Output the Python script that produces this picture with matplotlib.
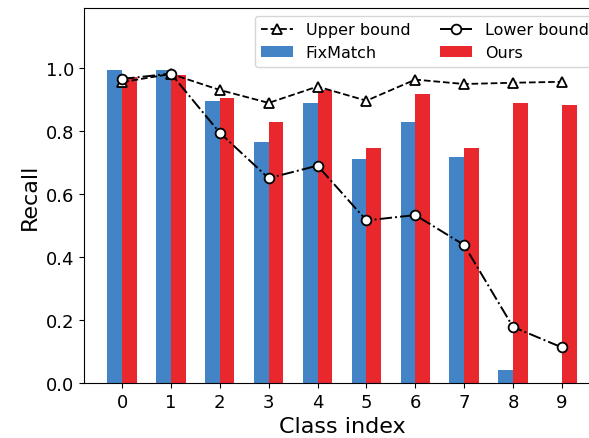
import matplotlib
matplotlib.use("Agg")
import matplotlib.pyplot as plt
import numpy as np

classes = [0, 1, 2, 3, 4, 5, 6, 7, 8, 9]
fixmatch = [0.995, 0.995, 0.895, 0.765, 0.888, 0.710, 0.828, 0.716, 0.040, 0.0]
ours = [0.972, 0.978, 0.905, 0.828, 0.931, 0.745, 0.918, 0.745, 0.889, 0.883]
upper = [0.955, 0.981, 0.930, 0.889, 0.941, 0.896, 0.963, 0.949, 0.953, 0.956]
lower = [0.965, 0.982, 0.794, 0.650, 0.690, 0.516, 0.533, 0.438, 0.178, 0.113]

fig = plt.figure(figsize=(5.89, 4.39), dpi=100)
ax = fig.add_axes([0.1426, 0.1253, 0.876, 0.854])

x = np.array(classes)
w = 0.3
b1 = ax.bar(x - w / 2, fixmatch, w, color='#4384c6', label='FixMatch')
b2 = ax.bar(x + w / 2, ours, w, color='#e8282d', label='Ours')
l1, = ax.plot(x, upper, linestyle='--', color='black', marker='^', markersize=7,
              markerfacecolor='white', markeredgecolor='black', markeredgewidth=1.3,
              linewidth=1.3, label='Upper bound')
l2, = ax.plot(x, lower, linestyle='-.', color='black', marker='o', markersize=7,
              markerfacecolor='white', markeredgecolor='black', markeredgewidth=1.3,
              linewidth=1.4, label='Lower bound')

ax.set_ylim(0, 1.19)
ax.set_xticks(classes)
ax.tick_params(labelsize=13)
ax.set_xlabel('Class index', fontsize=16)
ax.set_ylabel('Recall', fontsize=16)

ax.legend([l1, b1, l2, b2], ['Upper bound', 'FixMatch', 'Lower bound', 'Ours'],
          ncol=2, fontsize=11.5, loc='upper right', bbox_to_anchor=(1.006, 1.0),
          columnspacing=1.85)

fig.savefig('out.png', dpi=100)
